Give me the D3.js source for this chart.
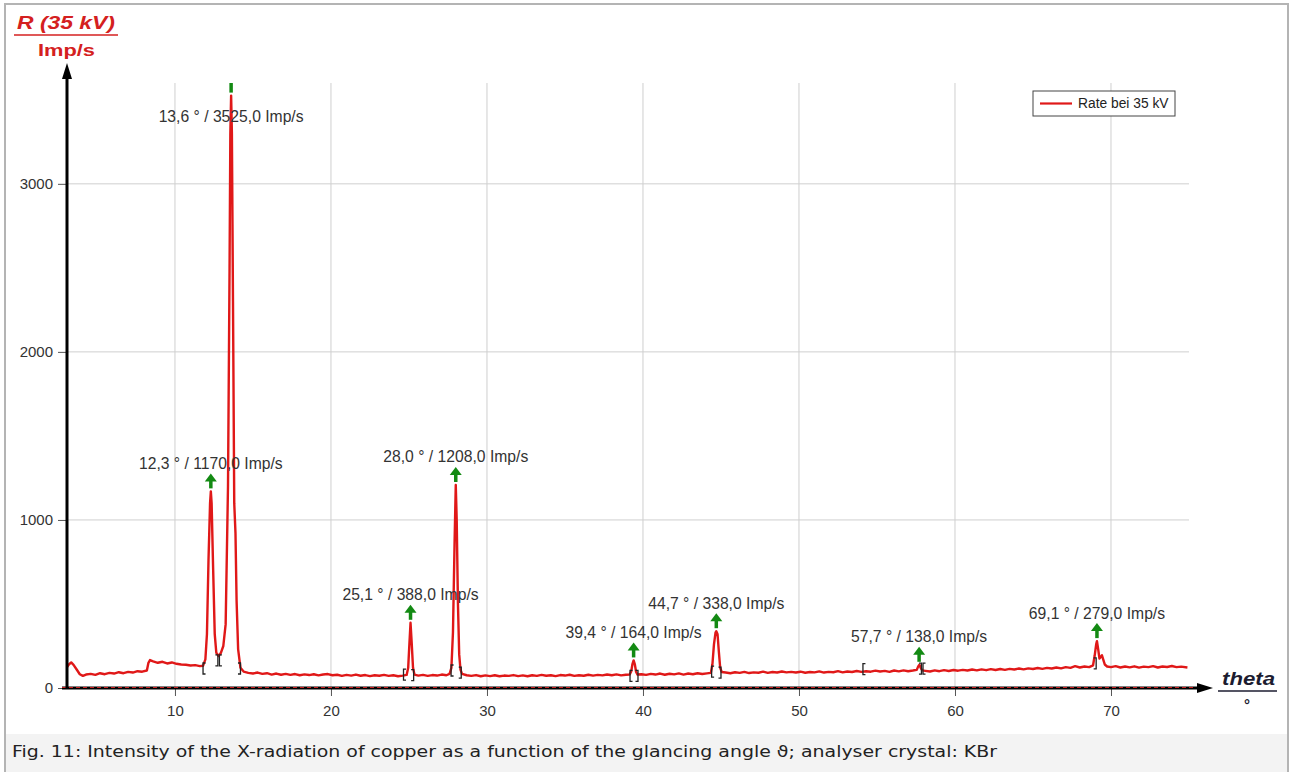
<!DOCTYPE html>
<html>
<head>
<meta charset="utf-8">
<script src="https://cdn.jsdelivr.net/npm/d3@7"></script>
<style>
  body { margin: 0; background: #fff; }
  svg { display: block; }
</style>
</head>
<body>
<svg width="1292" height="772"></svg>
<script>
// values: [theta in degrees, rate in Imp/s]
const spectrum = [
  [3.1,125],[3.2,140],[3.35,152],[3.5,138],[3.7,110],[3.9,82],[4.1,72],[4.3,80],[4.6,84],[4.9,78],
  [5.2,88],[5.5,82],[5.8,90],[6.1,86],[6.4,94],[6.7,88],[7.0,96],[7.3,92],[7.6,100],[7.9,97],
  [8.2,104],[8.3,150],[8.4,166],[8.6,158],[8.9,150],[9.2,156],[9.5,146],[9.8,152],[10.1,144],[10.4,140],
  [10.7,138],[11.0,134],[11.3,136],[11.6,130],[11.8,132],
  [11.95,170],[12.05,320],[12.15,760],[12.25,1100],[12.3,1170],[12.35,1100],[12.45,700],[12.55,320],
  [12.65,210],[12.8,190],[12.95,210],[13.1,250],[13.25,380],[13.4,1200],[13.5,2500],[13.55,3300],
  [13.6,3525],[13.65,3300],[13.72,2300],[13.8,1100],[13.88,920],[13.95,520],[14.05,230],[14.2,120],
  [14.4,98],[14.7,90],[15.0,86],[15.3,92],[15.6,84],[15.9,88],[16.2,80],[16.5,86],[16.8,79],[17.1,84],
  [17.4,78],[17.7,83],[18.0,76],[18.3,81],[18.6,77],[18.9,82],[19.2,75],[19.5,80],[19.8,83],[20.1,76],
  [20.4,79],[20.7,72],[21.0,78],[21.3,74],[21.6,80],[21.9,73],[22.2,77],[22.5,71],[22.8,76],[23.1,73],
  [23.4,78],[23.7,72],[24.0,76],[24.3,70],[24.6,74],[24.85,78],
  [24.95,120],[25.02,250],[25.1,388],[25.18,260],[25.26,120],[25.35,80],
  [25.6,74],[25.9,78],[26.2,72],[26.5,77],[26.8,74],[27.1,80],[27.4,76],[27.6,84],
  [27.72,120],[27.82,330],[27.92,850],[28.0,1208],[28.06,1000],[28.14,500],[28.22,200],[28.3,110],[28.4,84],
  [28.7,76],[29.0,72],[29.3,77],[29.6,70],[29.9,75],[30.2,71],[30.5,76],[30.8,70],[31.1,74],[31.4,72],
  [31.7,77],[32.0,71],[32.3,75],[32.6,70],[32.9,76],[33.2,72],[33.5,78],[33.8,73],[34.1,76],[34.4,71],
  [34.7,77],[35.0,74],[35.3,79],[35.6,72],[35.9,76],[36.2,73],[36.5,79],[36.8,74],[37.1,78],[37.4,75],
  [37.7,80],[38.0,76],[38.3,81],[38.6,75],[38.9,79],[39.15,80],
  [39.25,100],[39.32,140],[39.4,164],[39.48,140],[39.56,95],[39.65,80],
  [39.9,82],[40.2,78],[40.5,84],[40.8,80],[41.1,86],[41.4,79],[41.7,85],[42.0,81],[42.3,87],[42.6,80],
  [42.9,86],[43.2,82],[43.5,88],[43.8,83],[44.1,87],[44.35,90],
  [44.45,140],[44.55,260],[44.65,330],[44.7,338],[44.78,320],[44.86,220],[44.95,120],[45.05,95],
  [45.3,92],[45.6,88],[45.9,94],[46.2,90],[46.5,96],[46.8,89],[47.1,93],[47.4,91],[47.7,97],[48.0,90],
  [48.3,95],[48.6,92],[48.9,98],[49.2,93],[49.5,96],[49.8,92],[50.1,97],[50.4,91],[50.7,95],[51.0,93],
  [51.3,99],[51.6,92],[51.9,96],[52.2,94],[52.5,100],[52.8,93],[53.1,98],[53.4,95],[53.7,101],[54.0,96],
  [54.3,100],[54.6,97],[54.9,103],[55.2,98],[55.5,102],[55.8,96],[56.1,104],[56.4,99],[56.7,105],[57.0,100],
  [57.3,104],[57.55,108],[57.65,130],[57.72,138],[57.8,120],[57.9,105],
  [58.1,102],[58.4,98],[58.7,105],[59.0,100],[59.3,106],[59.6,101],[59.9,107],[60.2,103],[60.5,108],[60.8,104],
  [61.1,110],[61.4,105],[61.7,111],[62.0,106],[62.3,112],[62.6,107],[62.9,113],[63.2,108],[63.5,114],[63.8,110],
  [64.1,116],[64.4,111],[64.7,117],[65.0,113],[65.3,119],[65.6,114],[65.9,120],[66.2,116],[66.5,122],[66.8,117],
  [67.1,124],[67.4,120],[67.7,130],[68.0,122],[68.3,128],[68.6,124],[68.85,135],
  [68.95,190],[69.05,260],[69.1,279],[69.18,230],[69.26,175],[69.34,185],[69.42,195],[69.5,170],[69.6,140],[69.75,128],
  [70.0,124],[70.3,130],[70.6,122],[70.9,128],[71.2,123],[71.5,129],[71.8,121],[72.1,127],[72.4,124],[72.7,130],
  [73.0,122],[73.3,128],[73.6,125],[73.9,131],[74.2,124],[74.5,127],[74.9,122]
]

const peakAngles = [12.3, 13.6, 25.1, 28.0, 39.4, 44.7, 57.7, 69.1]
const peakRates = [1170, 3525, 388, 1208, 164, 338, 138, 279]

// peak integration limits drawn as small brackets
const bracketAngles = [11.8, 12.75, 12.85, 14.2, 24.65, 25.3, 27.7, 28.35, 39.17, 39.68, 44.4, 45.0, 54.1, 57.85, 57.95, 69.05]
const bracketRates = [119, 167, 167, 119, 83, 80, 107, 95, 75, 75, 100, 95, 115, 118, 118, 150]
const bracketSides = ["[", "]", "[", "]", "[", "]", "[", "]", "[", "]", "[", "]", "[", "]", "[", "]"]

const angleTicks = [10, 20, 30, 40, 50, 60, 70]
const rateTicks = [0, 1000, 2000, 3000]
const legendLabel = "Rate bei 35 kV"
const caption = "Fig. 11: Intensity of the X-radiation of copper as a function of the glancing angle \u03d1; analyser crystal: KBr"

const svg = d3.select("svg")
const redLine = "#e01818"
const green = "#138a13"
const sans = "Liberation Sans, Arial, sans-serif"

// frame and caption strip
svg.append("rect").attr("x", 5).attr("y", 4).attr("width", 1283).attr("height", 770)
  .attr("fill", "#fff").attr("stroke", "#b4b4b4").attr("stroke-width", 2)
svg.append("rect").attr("x", 6).attr("y", 734).attr("width", 1281).attr("height", 40).attr("fill", "#f3f3f3")
svg.append("text").attr("x", 12).attr("y", 757).attr("textLength", 985).attr("lengthAdjust", "spacingAndGlyphs")
  .style("font-family", "DejaVu Sans").style("font-size", "16.5px").attr("fill", "#222")
  .text(caption)

const x = d3.scaleLinear().domain([3.08, 75]).range([67, 1189])
const y = d3.scaleLinear().domain([0, 3600]).range([688, 83])

// grid
svg.append("g").selectAll("line").data(angleTicks).enter().append("line")
  .attr("x1", d => x(d)).attr("x2", d => x(d)).attr("y1", y(3600)).attr("y2", y(0))
  .attr("stroke", "#cfcfcf").attr("stroke-width", 1)
svg.append("g").selectAll("line").data(rateTicks.filter(d => d > 0)).enter().append("line")
  .attr("x1", x.range()[0]).attr("x2", x.range()[1]).attr("y1", d => y(d)).attr("y2", d => y(d))
  .attr("stroke", "#cfcfcf").attr("stroke-width", 1)

// axes via d3 axis generators, then restyled
const xAxis = svg.append("g").attr("transform", "translate(0," + y(0) + ")")
  .call(d3.axisBottom(x).tickValues(angleTicks).tickSize(8).tickPadding(9).tickFormat(d3.format("d")))
const yAxis = svg.append("g").attr("transform", "translate(" + x.range()[0] + ",0)")
  .call(d3.axisLeft(y).tickValues(rateTicks).tickSize(9).tickPadding(5).tickFormat(d3.format("d")))
;[xAxis, yAxis].forEach(a => {
  a.select(".domain").remove()
  a.selectAll(".tick line").attr("stroke", "#555")
  a.selectAll(".tick text").attr("fill", "#333")
    .style("font-family", sans).style("font-size", "15px")
})

// spectrum
const line = d3.line().x(d => x(d[0])).y(d => y(d[1]))
svg.append("path").datum(spectrum).attr("d", line)
  .attr("fill", "none").attr("stroke", redLine).attr("stroke-width", 2.4).attr("stroke-linejoin", "round")

// axis lines with arrows
svg.append("line").attr("x1", 62).attr("x2", 1200).attr("y1", y(0)).attr("y2", y(0))
  .attr("stroke", "#000").attr("stroke-width", 3)
svg.append("line").attr("x1", 62).attr("x2", 1196).attr("y1", y(0) - 0.5).attr("y2", y(0) - 0.5)
  .attr("stroke", "#c22").attr("stroke-width", 1).attr("stroke-dasharray", "4,3")
svg.append("path").attr("d", "M1213," + y(0) + "L1197," + (y(0) - 5) + "L1197," + (y(0) + 5) + "Z").attr("fill", "#000")
svg.append("line").attr("x1", x.range()[0]).attr("x2", x.range()[0]).attr("y1", y(0) + 1).attr("y2", 76)
  .attr("stroke", "#000").attr("stroke-width", 3)
svg.append("path").attr("d", "M67,63L62,79L72,79Z").attr("fill", "#000")

// brackets
const bracket = svg.append("g").attr("stroke", "#222").attr("stroke-width", 1.3).attr("fill", "none")
bracketAngles.forEach((a, i) => {
  const bx = x(a), by = y(bracketRates[i])
  const s = bracketSides[i] === "[" ? 2.5 : -2.5
  bracket.append("path").attr("d", "M" + (bx + s) + "," + (by - 5) + "H" + bx + "V" + (by + 6) + "H" + (bx + s))
})

// peak arrows (clipped to plot area) and labels
svg.append("clipPath").attr("id", "plotClip").append("rect")
  .attr("x", 67).attr("y", y(3600)).attr("width", 1130).attr("height", y(0) - y(3600))
const arrows = svg.append("g").attr("clip-path", "url(#plotClip)")
const fmt = v => v.toFixed(1).replace(".", ",")
peakAngles.forEach((a, i) => {
  const px = x(a), py = y(peakRates[i])
  const base = py - 3, tip = py - 18
  const atTop = py - 28 < 100
  arrows.append("line").attr("x1", px).attr("x2", px).attr("y1", base).attr("y2", atTop ? tip - 6 : tip + 6)
    .attr("stroke", green).attr("stroke-width", 3.5)
  if (!atTop) {
    arrows.append("path").attr("d", "M" + px + "," + tip + "L" + (px - 6) + "," + (tip + 8) + "L" + (px + 6) + "," + (tip + 8) + "Z")
      .attr("fill", green)
  }
  const ly = atTop ? py + 21 : py - 28
  svg.append("text").attr("x", px).attr("y", ly).attr("dy", "0.35em").attr("text-anchor", "middle")
    .style("font-family", sans).style("font-size", "15.7px").attr("fill", "#333")
    .text(fmt(a) + " \u00b0 / " + fmt(peakRates[i]) + " Imp/s")
})

// y-axis title
svg.append("text").attr("x", 17).attr("y", 29).attr("textLength", 98).attr("lengthAdjust", "spacingAndGlyphs")
  .style("font-family", sans).style("font-size", "18px")
  .style("font-weight", "bold").style("font-style", "italic").attr("fill", "#d42020").text("R (35 kV)")
svg.append("line").attr("x1", 14).attr("x2", 118).attr("y1", 35).attr("y2", 35).attr("stroke", "#d42020").attr("stroke-width", 1.5)
svg.append("text").attr("x", 38).attr("y", 56).attr("textLength", 57).attr("lengthAdjust", "spacingAndGlyphs")
  .style("font-family", sans).style("font-size", "17px")
  .style("font-weight", "bold").attr("fill", "#d42020").text("Imp/s")

// x-axis title
svg.append("text").attr("x", 1222).attr("y", 685).attr("textLength", 53).attr("lengthAdjust", "spacingAndGlyphs")
  .style("font-family", sans).style("font-size", "18px")
  .style("font-weight", "bold").style("font-style", "italic").attr("fill", "#1c1c30").text("theta")
svg.append("line").attr("x1", 1218).attr("x2", 1277).attr("y1", 691).attr("y2", 691).attr("stroke", "#1c1c30").attr("stroke-width", 1.5)
svg.append("text").attr("x", 1247).attr("y", 710).attr("text-anchor", "middle")
  .style("font-family", sans).style("font-size", "15px")
  .style("font-weight", "bold").attr("fill", "#1c1c30").text("\u00b0")

// legend
const legend = svg.append("g")
legend.append("rect").attr("x", 1033).attr("y", 91).attr("width", 142).attr("height", 25)
  .attr("fill", "#fff").attr("stroke", "#444").attr("stroke-width", 1)
legend.append("line").attr("x1", 1040).attr("x2", 1072).attr("y1", 103.5).attr("y2", 103.5)
  .attr("stroke", redLine).attr("stroke-width", 2.2)
legend.append("text").attr("x", 1078).attr("y", 108)
  .style("font-family", sans).style("font-size", "13.8px").attr("fill", "#222")
  .text(legendLabel)
</script>
</body>
</html>
